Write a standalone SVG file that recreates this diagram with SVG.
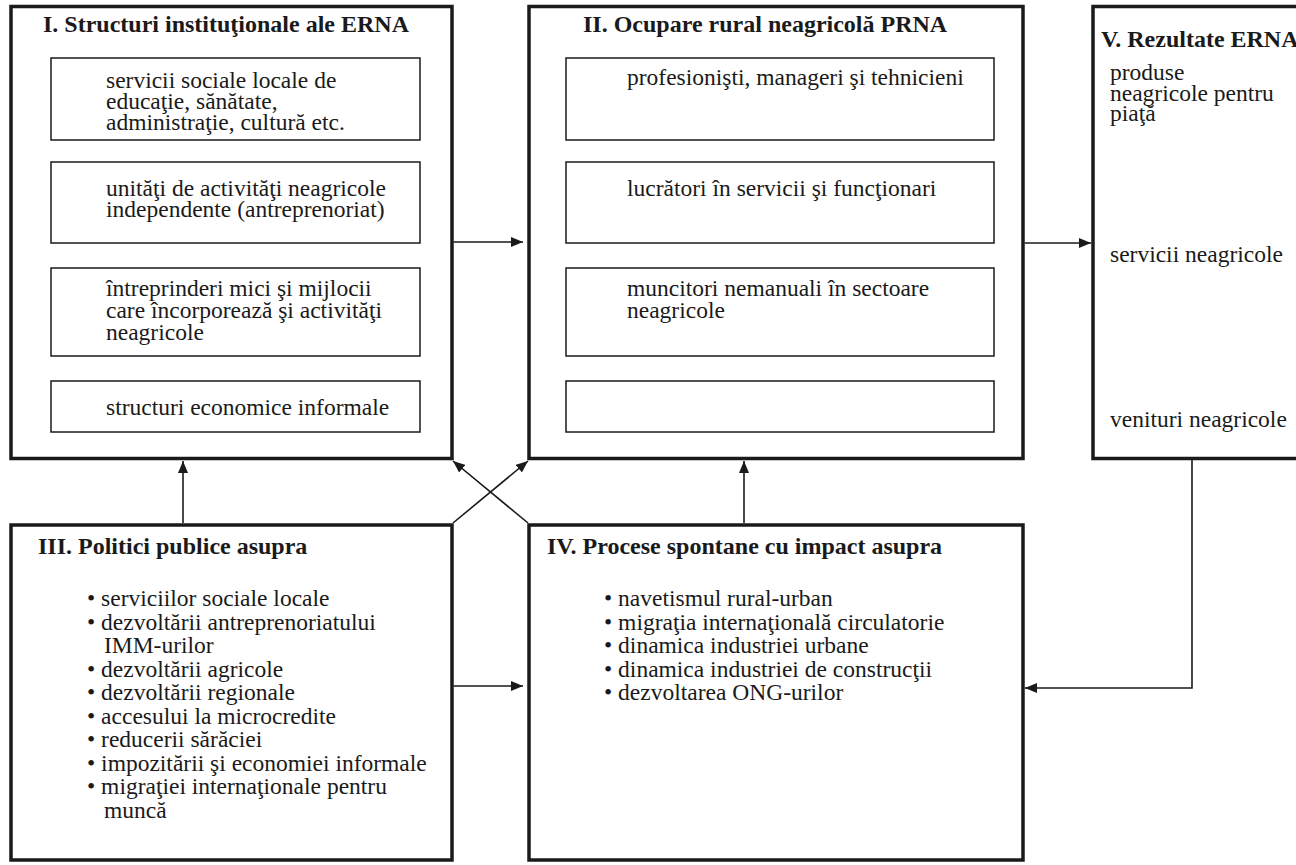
<svg xmlns="http://www.w3.org/2000/svg" width="1296" height="865" viewBox="0 0 1296 865">
<defs>
<marker id="ah" viewBox="0 0 12 10" refX="12" refY="5" markerWidth="12" markerHeight="10" markerUnits="userSpaceOnUse" orient="auto">
<path d="M0,0 L12,5 L0,10 Z" fill="#1a1a1a"/>
</marker>
<style>
.outer{fill:#fff;stroke:#1a1a1a;stroke-width:3.5}
.inner{fill:#fff;stroke:#1a1a1a;stroke-width:1.5}
.t{font-family:"Liberation Serif","Times New Roman",serif;font-size:23.5px;fill:#1a1a1a}
.b{font-family:"Liberation Serif","Times New Roman",serif;font-size:24px;font-weight:bold;fill:#1a1a1a}
.c{fill:none;stroke:#1a1a1a;stroke-width:1.6}
</style>
</defs>
<rect width="1296" height="865" fill="#fff"/>
<g id="node-I">
<rect class="outer" x="11" y="6.5" width="441" height="452"/>
<text class="b" x="43" y="32">I. Structuri instituţionale ale ERNA</text>
<rect class="inner" x="51" y="58" width="369" height="82"/>
<text class="t" x="106" y="88">servicii sociale locale de</text>
<text class="t" x="106" y="109">educaţie, sănătate,</text>
<text class="t" x="106" y="130">administraţie, cultură etc.</text>
<rect class="inner" x="51" y="162" width="369" height="81"/>
<text class="t" x="106" y="196">unităţi de activităţi neagricole</text>
<text class="t" x="106" y="217">independente (antreprenoriat)</text>
<rect class="inner" x="51" y="268" width="369" height="88"/>
<text class="t" x="106" y="296">întreprinderi mici şi mijlocii</text>
<text class="t" x="106" y="318">care încorporează şi activităţi</text>
<text class="t" x="106" y="340">neagricole</text>
<rect class="inner" x="51" y="381" width="369" height="51"/>
<text class="t" x="106" y="415">structuri economice informale</text>
</g>
<g id="node-II">
<rect class="outer" x="529" y="6.5" width="494" height="452"/>
<text class="b" x="583" y="32">II. Ocupare rural neagricolă PRNA</text>
<rect class="inner" x="566" y="58" width="428" height="82"/>
<text class="t" x="627" y="85">profesionişti, manageri şi tehnicieni</text>
<rect class="inner" x="566" y="162" width="428" height="81"/>
<text class="t" x="627" y="196">lucrători în servicii şi funcţionari</text>
<rect class="inner" x="566" y="268" width="428" height="88"/>
<text class="t" x="627" y="296">muncitori nemanuali în sectoare</text>
<text class="t" x="627" y="318">neagricole</text>
<rect class="inner" x="566" y="381" width="428" height="51"/>
</g>
<g id="node-V">
<rect class="outer" x="1093" y="6.5" width="230" height="452"/>
<text class="b" x="1101" y="47">V. Rezultate ERNA</text>
<text class="t" x="1110" y="80">produse</text>
<text class="t" x="1110" y="101">neagricole pentru</text>
<text class="t" x="1110" y="121">piaţă</text>
<text class="t" x="1110" y="262">servicii neagricole</text>
<text class="t" x="1110" y="427">venituri neagricole</text>
</g>
<g id="node-III">
<rect class="outer" x="11" y="525" width="441" height="335"/>
<text class="b" x="38" y="554">III. Politici publice asupra</text>
<text class="t" x="87" y="606">• serviciilor sociale locale</text>
<text class="t" x="87" y="629.5">• dezvoltării antreprenoriatului</text>
<text class="t" x="104" y="653">IMM-urilor</text>
<text class="t" x="87" y="676.5">• dezvoltării agricole</text>
<text class="t" x="87" y="700">• dezvoltării regionale</text>
<text class="t" x="87" y="723.5">• accesului la microcredite</text>
<text class="t" x="87" y="747">• reducerii sărăciei</text>
<text class="t" x="87" y="770.5">• impozitării şi economiei informale</text>
<text class="t" x="87" y="794">• migraţiei internaţionale pentru</text>
<text class="t" x="104" y="817.5">muncă</text>
</g>
<g id="node-IV">
<rect class="outer" x="529" y="525" width="494" height="335"/>
<text class="b" x="547" y="554">IV. Procese spontane cu impact asupra</text>
<text class="t" x="604" y="606">• navetismul rural-urban</text>
<text class="t" x="604" y="629.5">• migraţia internaţională circulatorie</text>
<text class="t" x="604" y="653">• dinamica industriei urbane</text>
<text class="t" x="604" y="676.5">• dinamica industriei de construcţii</text>
<text class="t" x="604" y="700">• dezvoltarea ONG-urilor</text>
</g>
<g id="connectors">
<line class="c" x1="453.5" y1="242" x2="523" y2="242" marker-end="url(#ah)"/>
<line class="c" x1="1024.5" y1="243" x2="1091" y2="243" marker-end="url(#ah)"/>
<line class="c" x1="183" y1="523" x2="183" y2="461" marker-end="url(#ah)"/>
<line class="c" x1="744" y1="523" x2="744" y2="461" marker-end="url(#ah)"/>
<line class="c" x1="453" y1="523" x2="528" y2="461" marker-end="url(#ah)"/>
<line class="c" x1="528" y1="523" x2="453" y2="461" marker-end="url(#ah)"/>
<line class="c" x1="453.5" y1="686" x2="523" y2="686" marker-end="url(#ah)"/>
<polyline class="c" points="1192,460 1192,688 1025,688" marker-end="url(#ah)"/>
</g>
</svg>
